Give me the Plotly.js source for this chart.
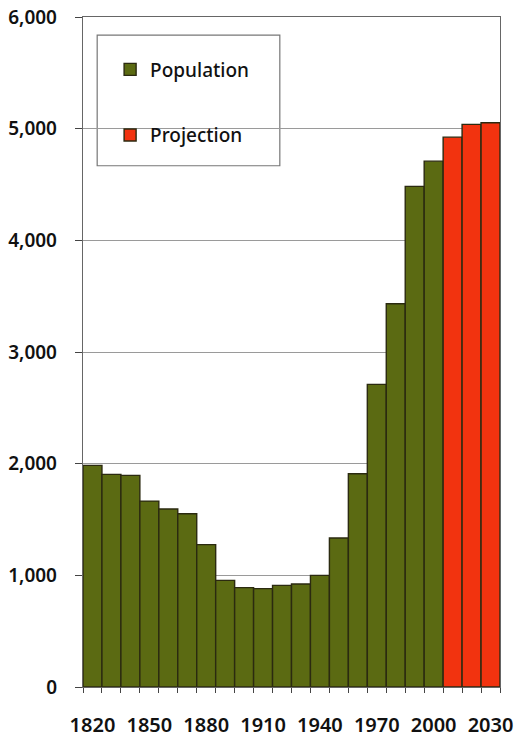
<!DOCTYPE html>
<html>
<head>
<meta charset="utf-8">
<script src="https://cdn.plot.ly/plotly-3.0.1.min.js"></script>
<style>
  html, body { margin: 0; padding: 0; background: #fff; }
  #chart { width: 515px; height: 740px; }
</style>
</head>
<body>
<div id="chart"></div>
<script>
const popYears = [1820,1830,1840,1850,1860,1870,1880,1890,1900,1910,1920,1930,1940,1950,1960,1970,1980,1990,2000];
const popValues = [1985,1904,1895,1665,1594,1552,1275,955,890,881,910,922,1000,1334,1910,2710,3432,4483,4709];
const projYears = [2010,2020,2030];
const projValues = [4924,5038,5053];
const tickYears = [1820,1850,1880,1910,1940,1970,2000,2030];
const tickLabels = ['1820','1850','1880','1910','1940','1970','2000','2030'];

const outline = {color: '#2b2a10', width: 1.4};
const traces = [
  {type: 'bar', name: 'Population', x: popYears, y: popValues, width: 10,
   legendgroup: 'a', marker: {color: '#5b6a12', line: outline}, hoverinfo: 'x+y'},
  {type: 'bar', name: 'Projection', x: projYears, y: projValues, width: 10,
   legendgroup: 'b', marker: {color: '#f2330f', line: outline}, hoverinfo: 'x+y'}
];

const fontFam = '"Noto Sans", "Open Sans", sans-serif';
const layout = {
  width: 515, height: 740,
  margin: {l: 83, r: 15, t: 17, b: 53},
  paper_bgcolor: '#fff', plot_bgcolor: '#fff',
  barmode: 'overlay', bargap: 0,
  showlegend: true,
  legend: {
    x: 0.065, y: 0.95, xanchor: 'left', yanchor: 'top',
    traceorder: 'grouped', tracegroupgap: 38,
    bgcolor: 'rgba(0,0,0,0)', borderwidth: 0,
    font: {family: fontFam, size: 19, color: '#111', weight: 500}
  },
  shapes: [
    {type: 'rect', xref: 'paper', yref: 'paper', x0: 0.034, x1: 0.472, y0: 0.778, y1: 0.973,
     line: {color: '#777', width: 1.2}, fillcolor: '#fff', layer: 'below'}
  ],
  xaxis: {
    range: [1815, 2035], showgrid: false, zeroline: false,
    showline: true, linecolor: '#666', linewidth: 1.2, mirror: true,
    tickmode: 'array', tickvals: tickYears, ticktext: tickLabels,
    ticks: '', ticklabelstandoff: 20,
    minor: {tick0: 1815, dtick: 10, ticks: 'outside', ticklen: 5, tickcolor: '#444', showgrid: false},
    tickfont: {family: fontFam, size: 20, color: '#111', weight: 600},
    fixedrange: true
  },
  yaxis: {
    range: [0, 6000], dtick: 1000, tickformat: ',d',
    showgrid: true, gridcolor: '#9a9a9a', gridwidth: 1,
    zeroline: false,
    showline: true, linecolor: '#666', linewidth: 1.2, mirror: true,
    ticks: 'outside', ticklen: 7, tickcolor: '#444', ticklabelstandoff: 14,
    tickfont: {family: fontFam, size: 19, color: '#111', weight: 600},
    fixedrange: true
  }
};

Plotly.newPlot('chart', traces, layout, {displayModeBar: false, staticPlot: true});
</script>
</body>
</html>
